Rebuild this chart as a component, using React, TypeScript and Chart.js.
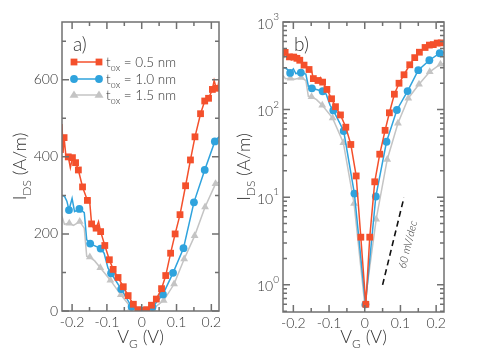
import React, { useEffect, useRef } from 'react';
import { Chart, registerables } from 'chart.js';
Chart.register(...registerables);

// ---------- data ----------
const redV = [-0.223, -0.211, -0.199, -0.190, -0.182, -0.170, -0.156, -0.144, -0.131, -0.118, -0.106, -0.093, -0.082, -0.068, -0.053, -0.039, -0.024, -0.011, 0.003, 0.014, 0.028, 0.042, 0.057, 0.069, 0.083, 0.096, 0.110, 0.126, 0.140, 0.153, 0.169, 0.181, 0.192, 0.203, 0.214];
const redI = [450, 400, 398, 385, 366, 322, 287, 226, 215, 206, 170, 133, 108, 87, 63, 40, 17.5, 3.5, 0.6, 3.5, 15, 31, 58, 92, 150, 200, 250, 325, 392, 452, 512, 545, 552, 575, 578];
const redLineV = [-0.229, -0.226, -0.217, -0.205, -0.150, -0.137, -0.124, 0.208, 0.219, 0.222];
const redLineI = [485, 410, 395, 372, 290, 212, 232, 598, 580, 600];

const blueV = [-0.209, -0.179, -0.148, -0.118, -0.088, -0.059, -0.029, 0.002, 0.031, 0.061, 0.090, 0.120, 0.150, 0.181, 0.210];
const blueI = [262, 265, 175, 162, 98, 57, 11, 0.6, 10.2, 43, 99, 163, 282, 366, 440];
const blueLineV = [-0.229, -0.222, -0.215, -0.200, -0.193, -0.165, -0.158, -0.108, -0.097, 0.222];
const blueLineI = [300, 298, 285, 292, 258, 255, 185, 150, 112, 452];

const greyV = [-0.208, -0.178, -0.149, -0.119, -0.090, -0.060, -0.030, 0.000, 0.032, 0.063, 0.093, 0.122, 0.152, 0.182, 0.212];
const greyI = [228, 232, 140, 112, 80, 42, 8.5, 0.6, 5.6, 27, 70, 135, 195, 270, 330];
const greyLineV = [-0.229, -0.222, -0.196, -0.165, -0.158, -0.135, 0.222];
const greyLineI = [245, 225, 222, 215, 142, 130, 335];

const seriesLabels = ['0.5 nm', '1.0 nm', '1.5 nm'];
const xTicks = [-0.2, -0.1, 0, 0.1, 0.2];
const xMinor = [-0.15, -0.05, 0.05, 0.15];
const yLinTicks = [0, 200, 400, 600];
const yLinMinor = [100, 300, 500, 700];
const yLogTicks = [1, 10, 100, 1000];
const slopeV = [0.05, 0.11];
const slopeI = [1, 10];

// ---------- styles ----------
const COLORS = ['#f4502c', '#2fa3dd', '#c4c4c4'];
const STYLES = ['rect', 'circle', 'triangle'];
const RADII = [4.8, 3.9, 4.5];
const FAMILY = 'Lato, "DejaVu Sans", sans-serif';
const font = (size: number, italic = false) => `${italic ? 'italic ' : ''}300 ${size}px ${FAMILY}`;
const TEXT = '#333333';
const FRAME = '#707070';

function merge(v: number[], i: number[], lv: number[], li: number[]) {
  const pts = v.map((x, k) => ({ x, y: i[k], m: 1 }))
    .concat(lv.map((x, k) => ({ x, y: li[k], m: 0 })));
  pts.sort((a, b) => a.x - b.x);
  return pts;
}

function datasets() {
  const all = [
    merge(redV, redI, redLineV, redLineI),
    merge(blueV, blueI, blueLineV, blueLineI),
    merge(greyV, greyI, greyLineV, greyLineI),
  ];
  return all.map((d, k) => ({
    label: seriesLabels[k],
    data: d,
    borderColor: COLORS[k],
    backgroundColor: COLORS[k],
    borderWidth: 1.5,
    pointStyle: STYLES[k],
    pointRadius: (c: any) => (c.raw && c.raw.m ? RADII[k] : 0),
    pointBorderWidth: 0,
    pointHoverRadius: 0,
    tension: 0,
  }));
}

function drawMarker(ctx: CanvasRenderingContext2D, k: number, x: number, y: number) {
  const r = RADII[k];
  ctx.fillStyle = COLORS[k];
  ctx.beginPath();
  if (k === 0) {
    const s = r * Math.SQRT1_2;
    ctx.rect(x - s, y - s, 2 * s, 2 * s);
  } else if (k === 1) {
    ctx.arc(x, y, r, 0, Math.PI * 2);
  } else {
    ctx.moveTo(x - r, y + r * 0.6);
    ctx.lineTo(x, y - r);
    ctx.lineTo(x + r, y + r * 0.6);
    ctx.closePath();
  }
  ctx.fill();
}

function drawSubText(ctx: CanvasRenderingContext2D, parts: [string, boolean][], x: number, y: number, size: number, subSize: number, align: 'left' | 'center') {
  ctx.textBaseline = 'alphabetic';
  ctx.textAlign = 'left';
  let total = 0;
  const widths = parts.map(([t, sub]) => {
    ctx.font = font(sub ? subSize : size);
    const w = ctx.measureText(t).width;
    total += w;
    return w;
  });
  let cx = align === 'center' ? x - total / 2 : x;
  parts.forEach(([t, sub], i) => {
    ctx.font = font(sub ? subSize : size);
    ctx.fillText(t, cx, sub ? y + size * 0.28 : y);
    cx += widths[i];
  });
}

function overlay(kind: 'lin' | 'log') {
  return {
    id: 'overlay_' + kind,
    afterDraw(chart: any) {
      const ctx: CanvasRenderingContext2D = chart.ctx;
      const { left, right, top, bottom } = chart.chartArea;
      const xs = chart.scales.x;
      const ys = chart.scales.y;
      ctx.save();
      ctx.strokeStyle = FRAME;
      ctx.lineWidth = 1.5;
      const vt = (px: number, len: number) => {
        ctx.beginPath();
        ctx.moveTo(px, bottom); ctx.lineTo(px, bottom - len);
        ctx.moveTo(px, top); ctx.lineTo(px, top + len);
        ctx.stroke();
      };
      const ht = (py: number, len: number) => {
        ctx.beginPath();
        ctx.moveTo(left, py); ctx.lineTo(left + len, py);
        ctx.moveTo(right, py); ctx.lineTo(right - len, py);
        ctx.stroke();
      };
      xTicks.forEach((v) => vt(xs.getPixelForValue(v), 7));
      xMinor.forEach((v) => vt(xs.getPixelForValue(v), 4));
      if (kind === 'lin') {
        yLinTicks.forEach((v) => ht(ys.getPixelForValue(v), 7));
        yLinMinor.forEach((v) => ht(ys.getPixelForValue(v), 4));
      } else {
        yLogTicks.forEach((v) => ht(ys.getPixelForValue(v), 7));
        [0.5, 0.6, 0.7, 0.8, 0.9].concat(
          [2, 3, 4, 5, 6, 7, 8, 9].flatMap((m) => [m, m * 10, m * 100])
        ).forEach((v) => {
          if (v > ys.min && v < ys.max) ht(ys.getPixelForValue(v), 4);
        });
      }
      ctx.strokeRect(left, top, right - left, bottom - top);

      // tick labels
      ctx.fillStyle = TEXT;
      ctx.font = font(14);
      ctx.textAlign = 'center';
      ctx.textBaseline = 'middle';
      xTicks.forEach((v) => {
        ctx.fillText(v === 0 ? '0' : v.toFixed(1), xs.getPixelForValue(v), bottom + 11);
      });
      if (kind === 'lin') {
        ctx.textAlign = 'right';
        yLinTicks.forEach((v) => ctx.fillText(String(v), left - 4, ys.getPixelForValue(v)));
      } else {
        yLogTicks.forEach((v) => {
          const py = ys.getPixelForValue(v);
          const e = String(Math.round(Math.log10(v)));
          ctx.font = font(10);
          const we = ctx.measureText(e).width;
          ctx.font = font(14);
          const wb = ctx.measureText('10').width;
          const x0 = left - 4 - we - wb;
          ctx.textAlign = 'left';
          ctx.textBaseline = 'middle';
          ctx.fillText('10', x0, py + 2);
          ctx.font = font(10);
          ctx.fillText(e, x0 + wb, py - 5);
        });
      }

      // axis titles
      ctx.fillStyle = TEXT;
      drawSubText(ctx, [['V', false], ['G', true], [' (V)', false]], (left + right) / 2, 343, 18, 12, 'center');
      ctx.save();
      const tx = kind === 'lin' ? left - 36 : left - 33;
      ctx.translate(tx, (top + bottom) / 2);
      ctx.rotate(-Math.PI / 2);
      drawSubText(ctx, [['I', false], ['DS', true], [' (A/m)', false]], 0, 0, 18, 12, 'center');
      ctx.restore();

      // panel label
      ctx.font = font(19);
      ctx.textAlign = 'left';
      ctx.textBaseline = 'middle';
      ctx.fillText(kind === 'lin' ? 'a)' : 'b)', left + 11, 45);

      if (kind === 'lin') {
        // legend
        const rows = [62, 79, 95];
        rows.forEach((ry, k) => {
          ctx.strokeStyle = COLORS[k];
          ctx.lineWidth = 1.5;
          ctx.beginPath();
          ctx.moveTo(left + 12, ry); ctx.lineTo(left + 37, ry);
          ctx.stroke();
          drawMarker(ctx, k, left + 12, ry);
          drawMarker(ctx, k, left + 37, ry);
          ctx.fillStyle = TEXT;
          drawSubText(ctx, [['t', false], ['ox', true], [' = ' + seriesLabels[k], false]], left + 44, ry + 5, 13.5, 9.5, 'left');
        });
      } else {
        // 60 mV/dec guide
        const x1 = xs.getPixelForValue(slopeV[0]);
        const y1 = ys.getPixelForValue(slopeI[0]);
        const x2 = xs.getPixelForValue(slopeV[1]);
        const y2 = ys.getPixelForValue(slopeI[1]);
        ctx.strokeStyle = '#111';
        ctx.lineWidth = 1.6;
        ctx.setLineDash([6, 4]);
        ctx.beginPath();
        ctx.moveTo(x1, y1); ctx.lineTo(x2, y2);
        ctx.stroke();
        ctx.setLineDash([]);
        const ang = Math.atan2(y2 - y1, x2 - x1);
        const len = Math.hypot(x2 - x1, y2 - y1);
        const ux = (x2 - x1) / len, uy = (y2 - y1) / len;
        const px = -uy, py = ux;
        const mx = (x1 + x2) / 2 + px * 15;
        const my = (y1 + y2) / 2 + py * 15;
        ctx.save();
        ctx.translate(mx, my);
        ctx.rotate(ang);
        ctx.fillStyle = TEXT;
        ctx.font = font(11, true);
        ctx.textAlign = 'center';
        ctx.textBaseline = 'middle';
        ctx.fillText('60 mV/dec', 0, 0);
        ctx.restore();
      }
      ctx.restore();
    },
  };
}

function makeConfig(kind: 'lin' | 'log'): any {
  return {
    type: 'line',
    data: { datasets: datasets() },
    options: {
      animation: false,
      responsive: false,
      devicePixelRatio: 1,
      events: [],
      layout: {
        padding: kind === 'lin'
          ? { left: 62, right: 11, top: 22, bottom: 41 }
          : { left: 53, right: 54, top: 22, bottom: 40 },
      },
      plugins: { legend: { display: false }, tooltip: { enabled: false } },
      scales: {
        x: { type: 'linear', min: -0.229, max: 0.222, display: false },
        y: kind === 'lin'
          ? { type: 'linear', min: 0, max: 750, display: false }
          : { type: 'logarithmic', min: 0.49, max: 1000, display: false },
      },
    },
    plugins: [overlay(kind)],
  };
}

export default function App() {
  const leftRef = useRef<HTMLCanvasElement>(null);
  const rightRef = useRef<HTMLCanvasElement>(null);
  useEffect(() => {
    const c1 = new Chart(leftRef.current as HTMLCanvasElement, makeConfig('lin'));
    const c2 = new Chart(rightRef.current as HTMLCanvasElement, makeConfig('log'));
    return () => { c1.destroy(); c2.destroy(); };
  }, []);
  return (
    <div style={{ position: 'fixed', left: 0, top: 0, width: 498, height: 352, background: '#fff' }}>
      <canvas ref={leftRef} width={230} height={352} style={{ position: 'absolute', left: 0, top: 0, width: 230, height: 352 }} />
      <canvas ref={rightRef} width={268} height={352} style={{ position: 'absolute', left: 230, top: 0, width: 268, height: 352 }} />
    </div>
  );
}
